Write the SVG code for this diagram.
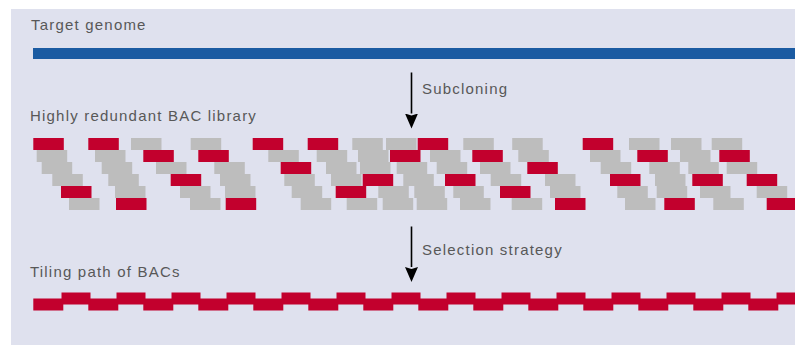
<svg xmlns="http://www.w3.org/2000/svg" width="795" height="345" viewBox="0 0 795 345">
<defs>
<style>
.bg{fill:#dfe1ee}
.r{fill:#c2002d}
.g{fill:#bdbdbd}
.blue{fill:#1b5ba2}
.lbl{font-family:"Liberation Sans",Arial,Helvetica,sans-serif;font-size:15px;fill:#585858;letter-spacing:1.2px}
.arrow{stroke:#000;stroke-width:1.6;fill:none}
</style>
<marker id="ah" viewBox="0 -7 15 14" refX="0" refY="0" markerWidth="15" markerHeight="14" markerUnits="userSpaceOnUse" orient="auto">
<path d="M0,-6.5 L15,0 L0,6.5 L2,0 z" fill="#000"/>
</marker>
</defs>
<rect x="0" y="0" width="795" height="345" fill="#ffffff"/>
<rect class="bg" x="11" y="9" width="784" height="336"/>

<g id="target-genome">
<text class="lbl" x="31" y="30">Target genome</text>
<rect class="blue" x="33" y="48" width="762" height="11"/>
</g>

<g id="bac-library">
<text class="lbl" x="30" y="121">Highly redundant BAC library</text>
<!-- row 1 -->
<rect class="r" x="33.3" y="138" width="30.5" height="12"/>
<rect class="r" x="88.3" y="138" width="30.5" height="12"/>
<rect class="g" x="131" y="138" width="30.5" height="12"/>
<rect class="g" x="190.7" y="138" width="30.5" height="12"/>
<rect class="r" x="252.7" y="138" width="30.5" height="12"/>
<rect class="r" x="307.7" y="138" width="30.5" height="12"/>
<rect class="g" x="352.3" y="138" width="30.5" height="12"/>
<rect class="g" x="386" y="138" width="30.5" height="12"/>
<rect class="r" x="417.7" y="138" width="30.5" height="12"/>
<rect class="g" x="463.3" y="138" width="30.5" height="12"/>
<rect class="g" x="512.2" y="138" width="30.5" height="12"/>
<rect class="r" x="582.7" y="138" width="30.5" height="12"/>
<rect class="g" x="629" y="138" width="30.5" height="12"/>
<rect class="g" x="671" y="138" width="30.5" height="12"/>
<rect class="g" x="711.7" y="138" width="30.5" height="12"/>
<!-- row 2 -->
<rect class="g" x="36.7" y="150" width="30.5" height="12"/>
<rect class="g" x="95" y="150" width="30.5" height="12"/>
<rect class="r" x="143.3" y="150" width="30.5" height="12"/>
<rect class="r" x="198.3" y="150" width="30.5" height="12"/>
<rect class="g" x="268.3" y="150" width="30.5" height="12"/>
<rect class="g" x="316.7" y="150" width="30.5" height="12"/>
<rect class="g" x="358" y="150" width="30.5" height="12"/>
<rect class="r" x="390" y="150" width="30.5" height="12"/>
<rect class="g" x="430" y="150" width="30.5" height="12"/>
<rect class="r" x="472.3" y="150" width="30.5" height="12"/>
<rect class="g" x="518.3" y="150" width="30.5" height="12"/>
<rect class="g" x="590" y="150" width="30.5" height="12"/>
<rect class="r" x="637.3" y="150" width="30.5" height="12"/>
<rect class="g" x="680" y="150" width="30.5" height="12"/>
<rect class="r" x="719.3" y="150" width="30.5" height="12"/>
<!-- row 3 -->
<rect class="g" x="41.7" y="162" width="30.5" height="12"/>
<rect class="g" x="101.7" y="162" width="30.5" height="12"/>
<rect class="g" x="156" y="162" width="30.5" height="12"/>
<rect class="g" x="214.3" y="162" width="30.5" height="12"/>
<rect class="r" x="280.7" y="162" width="30.5" height="12"/>
<rect class="g" x="326" y="162" width="30.5" height="12"/>
<rect class="g" x="360" y="162" width="30.5" height="12"/>
<rect class="g" x="396.7" y="162" width="30.5" height="12"/>
<rect class="g" x="436.7" y="162" width="30.5" height="12"/>
<rect class="g" x="480" y="162" width="30.5" height="12"/>
<rect class="r" x="527.3" y="162" width="30.5" height="12"/>
<rect class="g" x="600.7" y="162" width="30.5" height="12"/>
<rect class="g" x="649.3" y="162" width="30.5" height="12"/>
<rect class="g" x="688.3" y="162" width="30.5" height="12"/>
<rect class="g" x="726.7" y="162" width="30.5" height="12"/>
<!-- row 4 -->
<rect class="g" x="52.3" y="174" width="30.5" height="12"/>
<rect class="g" x="108.3" y="174" width="30.5" height="12"/>
<rect class="r" x="170.7" y="174" width="30.5" height="12"/>
<rect class="g" x="220" y="174" width="30.5" height="12"/>
<rect class="g" x="284.3" y="174" width="30.5" height="12"/>
<rect class="g" x="331" y="174" width="30.5" height="12"/>
<rect class="r" x="362.7" y="174" width="30.5" height="12"/>
<rect class="g" x="403.3" y="174" width="30.5" height="12"/>
<rect class="r" x="445" y="174" width="30.5" height="12"/>
<rect class="g" x="490.7" y="174" width="30.5" height="12"/>
<rect class="g" x="545" y="174" width="30.5" height="12"/>
<rect class="r" x="610" y="174" width="30.5" height="12"/>
<rect class="g" x="655" y="174" width="30.5" height="12"/>
<rect class="r" x="692.3" y="174" width="30.5" height="12"/>
<rect class="r" x="746.7" y="174" width="30.5" height="12"/>
<!-- row 5 -->
<rect class="r" x="61" y="186" width="30.5" height="12"/>
<rect class="g" x="115" y="186" width="30.5" height="12"/>
<rect class="g" x="180" y="186" width="30.5" height="12"/>
<rect class="g" x="225" y="186" width="30.5" height="12"/>
<rect class="g" x="291.7" y="186" width="30.5" height="12"/>
<rect class="r" x="335.7" y="186" width="30.5" height="12"/>
<rect class="g" x="378.3" y="186" width="30.5" height="12"/>
<rect class="g" x="414.3" y="186" width="30.5" height="12"/>
<rect class="g" x="453.3" y="186" width="30.5" height="12"/>
<rect class="r" x="500" y="186" width="30.5" height="12"/>
<rect class="g" x="550" y="186" width="30.5" height="12"/>
<rect class="g" x="617.3" y="186" width="30.5" height="12"/>
<rect class="g" x="656.7" y="186" width="30.5" height="12"/>
<rect class="g" x="700" y="186" width="30.5" height="12"/>
<rect class="g" x="756.7" y="186" width="30.5" height="12"/>
<!-- row 6 -->
<rect class="g" x="69" y="198" width="30.5" height="12"/>
<rect class="r" x="116" y="198" width="30.5" height="12"/>
<rect class="g" x="190" y="198" width="30.5" height="12"/>
<rect class="r" x="225.7" y="198" width="30.5" height="12"/>
<rect class="g" x="300.7" y="198" width="30.5" height="12"/>
<rect class="g" x="346.7" y="198" width="30.5" height="12"/>
<rect class="g" x="382.7" y="198" width="30.5" height="12"/>
<rect class="g" x="416.7" y="198" width="30.5" height="12"/>
<rect class="g" x="460" y="198" width="30.5" height="12"/>
<rect class="g" x="511.7" y="198" width="30.5" height="12"/>
<rect class="r" x="555" y="198" width="30.5" height="12"/>
<rect class="g" x="625" y="198" width="30.5" height="12"/>
<rect class="r" x="664.3" y="198" width="30.5" height="12"/>
<rect class="g" x="713.3" y="198" width="30.5" height="12"/>
<rect class="r" x="766.7" y="198" width="30.5" height="12"/>
</g>

<g id="tiling-path">
<text class="lbl" x="30" y="277">Tiling path of BACs</text>
<rect class="r" x="33.3" y="298.5" width="30" height="12"/>
<rect class="r" x="88.3" y="298.5" width="30" height="12"/>
<rect class="r" x="143.3" y="298.5" width="30" height="12"/>
<rect class="r" x="198.3" y="298.5" width="30" height="12"/>
<rect class="r" x="253.3" y="298.5" width="30" height="12"/>
<rect class="r" x="308.3" y="298.5" width="30" height="12"/>
<rect class="r" x="363.3" y="298.5" width="30" height="12"/>
<rect class="r" x="418.3" y="298.5" width="30" height="12"/>
<rect class="r" x="473.3" y="298.5" width="30" height="12"/>
<rect class="r" x="528.3" y="298.5" width="30" height="12"/>
<rect class="r" x="583.3" y="298.5" width="30" height="12"/>
<rect class="r" x="638.3" y="298.5" width="30" height="12"/>
<rect class="r" x="693.3" y="298.5" width="30" height="12"/>
<rect class="r" x="748.3" y="298.5" width="30" height="12"/>
<rect class="r" x="61.5" y="292.5" width="29" height="12"/>
<rect class="r" x="116.5" y="292.5" width="29" height="12"/>
<rect class="r" x="171.5" y="292.5" width="29" height="12"/>
<rect class="r" x="226.5" y="292.5" width="29" height="12"/>
<rect class="r" x="281.5" y="292.5" width="29" height="12"/>
<rect class="r" x="336.5" y="292.5" width="29" height="12"/>
<rect class="r" x="391.5" y="292.5" width="29" height="12"/>
<rect class="r" x="446.5" y="292.5" width="29" height="12"/>
<rect class="r" x="501.5" y="292.5" width="29" height="12"/>
<rect class="r" x="556.5" y="292.5" width="29" height="12"/>
<rect class="r" x="611.5" y="292.5" width="29" height="12"/>
<rect class="r" x="666.5" y="292.5" width="29" height="12"/>
<rect class="r" x="721.5" y="292.5" width="29" height="12"/>
<rect class="r" x="776.5" y="292.5" width="29" height="12"/>
</g>

<g id="connectors">
<line class="arrow" x1="411.5" y1="72.5" x2="411.5" y2="113.5" marker-end="url(#ah)"/>
<text class="lbl" x="422" y="94">Subcloning</text>
<line class="arrow" x1="411.5" y1="226.5" x2="411.5" y2="267" marker-end="url(#ah)"/>
<text class="lbl" x="422" y="255">Selection strategy</text>
</g>
</svg>
